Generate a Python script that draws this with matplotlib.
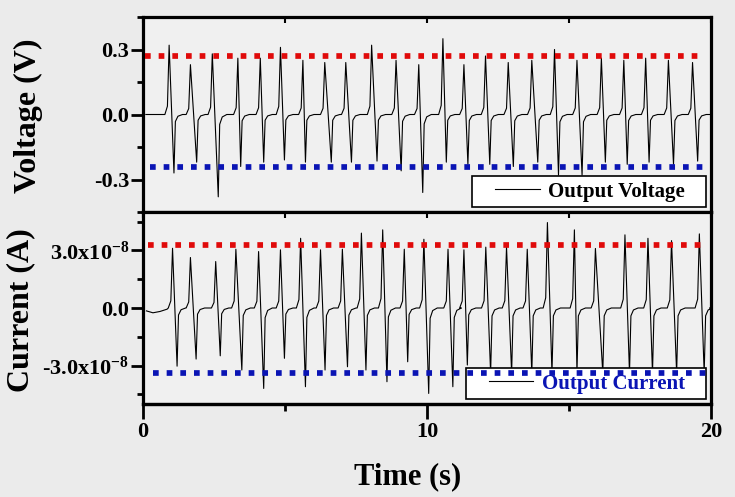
import numpy as np
import matplotlib.pyplot as plt
from matplotlib.ticker import FixedLocator, FixedFormatter
from matplotlib.legend_handler import HandlerLine2D

plt.rcParams['font.family'] = ['Liberation Serif', 'DejaVu Serif']
plt.rcParams['font.weight'] = 'bold'
plt.rcParams['mathtext.fontset'] = 'custom'
plt.rcParams['mathtext.rm'] = 'Liberation Serif:bold'
plt.rcParams['mathtext.it'] = 'Liberation Serif:bold'
plt.rcParams['mathtext.bf'] = 'Liberation Serif:bold'

#%% Datos leidos de la figura
# voltaje: picos positivos y negativos (s, V)
v_pk_t = [0.92, 1.67, 2.44, 3.34, 4.13, 4.84, 5.63, 6.40, 7.14, 8.05, 8.91, 9.71,
          10.56, 11.30, 12.06, 12.86, 13.69, 14.49, 15.28, 16.14, 16.93, 17.70, 18.50, 19.35]
v_pk = [0.32, 0.23, 0.28, 0.26, 0.26, 0.31, 0.25, 0.24, 0.24, 0.32, 0.25, 0.23,
        0.35, 0.23, 0.27, 0.24, 0.25, 0.30, 0.25, 0.26, 0.25, 0.26, 0.25, 0.24]
v_tr_t = [1.09, 1.89, 2.65, 3.44, 4.25, 4.98, 5.72, 6.63, 7.34, 8.24, 9.09, 9.85,
          10.68, 11.44, 12.21, 13.04, 13.90, 14.63, 15.46, 16.28, 17.05, 17.82, 18.68, 19.53]
v_tr = [-0.27, -0.22, -0.38, -0.24, -0.22, -0.21, -0.22, -0.22, -0.22, -0.215, -0.26, -0.36,
        -0.22, -0.23, -0.23, -0.24, -0.22, -0.28, -0.28, -0.22, -0.23, -0.22, -0.23, -0.215]
v_levels = [0.272, -0.24]

# corriente: picos (s, 1e-8 A)
i_pk_t = [1.04, 1.67, 2.56, 3.27, 4.07, 4.84, 5.55, 6.25, 7.02, 7.69, 8.44, 9.20, 9.89,
          10.74, 11.30, 12.07, 12.80, 13.53, 14.24, 15.19, 15.93, 16.97, 17.78, 18.61, 19.59]
i_pk = [3.11, 2.63, 2.42, 3.06, 2.94, 3.03, 3.63, 3.03, 3.06, 3.90, 4.07, 3.06, 3.58,
        3.06, 3.03, 3.17, 3.17, 3.06, 4.45, 4.07, 3.10, 3.81, 3.63, 3.51, 3.86]
i_tr_t = [1.20, 1.87, 2.72, 3.48, 4.25, 4.98, 5.72, 6.41, 7.20, 7.85, 8.59, 9.32, 10.06,
          10.91, 11.42, 12.24, 12.98, 13.69, 14.40, 15.28, 16.19, 17.13, 17.94, 18.79, 19.76]
i_tr = [-3.03, -2.66, -2.49, -3.23, -4.19, -2.62, -4.10, -3.23, -3.06, -3.23, -3.84, -2.80, -4.45,
        -4.10, -2.97, -3.40, -3.40, -3.40, -3.40, -3.40, -3.40, -3.40, -3.40, -3.40, -3.40]
i_start_t = [0.12, 0.35, 0.60, 0.85]
i_start = [-0.15, -0.25, -0.18, -0.06]
i_levels = [3.29, -3.39]

# forma de cada pulso (offsets en s, fraccion de la amplitud)
pre_dt = [-0.15, -0.06]
pre_fr = [0.0, 0.12]
post_dt = [0.05, 0.14, 0.30]
post_fr = [0.12, 0.03, 0.0]


def armar(pk_t, pk, tr_t, tr, t_ini, y_ini, t_fin):
    t = list(t_ini)
    y = list(y_ini)
    for a, b, c, d in zip(pk_t, pk, tr_t, tr):
        t += [a + dt for dt in pre_dt] + [a, c] + [c + dt for dt in post_dt]
        y += [b * f for f in pre_fr] + [b, d] + [d * f for f in post_fr]
    t.append(t_fin)
    y.append(0.0)
    return np.array(t), np.array(y)


tv, yv = armar(v_pk_t, v_pk, v_tr_t, v_tr, [0.1], [0.0], 19.95)
ti, yi = armar(i_pk_t, i_pk, i_tr_t, i_tr, i_start_t, i_start, 19.95)
yi = yi * 1e-8

#%% Grafica
W, H = 735, 497
fig = plt.figure(figsize=(W / 100, H / 100), dpi=100, facecolor='#ebebeb')

def caja(x0, y0, x1, y1):
    return [x0 / W, 1 - y1 / H, (x1 - x0) / W, (y1 - y0) / H]

ax1 = fig.add_axes(caja(143, 17, 711, 212))
ax2 = fig.add_axes(caja(143, 212, 711, 404))

rojo = '#e00a0a'
azul = '#0a14b4'
punteado = (0, (1, 1.4))

for ax in (ax1, ax2):
    ax.set_facecolor('#f0f0f0')
    ax.set_xlim(0, 20)
    for s in ax.spines.values():
        s.set_linewidth(2.3)
    ax.xaxis.set_major_locator(FixedLocator([0, 10, 20]))
    ax.xaxis.set_minor_locator(FixedLocator([5, 15]))
    ax.tick_params(axis='y', which='major', direction='out', length=9, width=2,
                   labelsize=16, pad=1)
    ax.tick_params(axis='y', which='minor', direction='out', length=4, width=2)
    ax.tick_params(axis='x', which='both', direction='in', bottom=False, top=True,
                   labelbottom=False, length=4, width=1.5)

ax1.plot(tv, yv, color='black', lw=0.8, label='Output Voltage   ', zorder=2)
ax1.plot([0.07, 19.65], [v_levels[0]] * 2, color=rojo, lw=4.1, ls=punteado, zorder=6)
ax1.plot([0.25, 19.86], [v_levels[1]] * 2, color=azul, lw=4.1, ls=punteado, zorder=6)
ax1.set_ylim(-0.45, 0.45)
ax1.yaxis.set_major_locator(FixedLocator([-0.3, 0.0, 0.3]))
ax1.yaxis.set_major_formatter(FixedFormatter(['-0.3', '0.0', '0.3']))
ax1.yaxis.set_minor_locator(FixedLocator([-0.45, -0.15, 0.15, 0.45]))

ax2.plot(ti, yi, color='black', lw=0.8, label='Output Current   ', zorder=2)
ax2.plot([0.18, 19.8], [i_levels[0] * 1e-8] * 2, color=rojo, lw=4.1, ls=punteado, zorder=6)
ax2.plot([0.35, 19.93], [i_levels[1] * 1e-8] * 2, color=azul, lw=4.1, ls=punteado, zorder=6)
ax2.set_ylim(-5e-8, 5e-8)
ax2.yaxis.set_major_locator(FixedLocator([-3e-8, 0.0, 3e-8]))
ax2.yaxis.set_major_formatter(FixedFormatter(['-3.0x10$^{-8}$', '0.0', '3.0x10$^{-8}$']))
ax2.yaxis.set_minor_locator(FixedLocator([-4.5e-8, -1.5e-8, 1.5e-8, 4.5e-8]))

# eje x de abajo: ticks hacia afuera con etiquetas
ejex = ax2.secondary_xaxis('bottom')
ejex.xaxis.set_major_locator(FixedLocator([0, 10, 20]))
ejex.xaxis.set_minor_locator(FixedLocator([5, 15]))
ejex.tick_params(which='major', direction='out', length=11, width=2, labelsize=16, pad=2)
ejex.tick_params(which='minor', direction='out', length=5, width=2)
ejex.spines['bottom'].set_linewidth(2.3)

for ax, color in ((ax1, 'black'), (ax2, azul)):
    leg = ax.legend(loc='lower right', fontsize=15, frameon=True, fancybox=False,
                    edgecolor='black', facecolor='white', framealpha=1,
                    borderpad=0.25, borderaxespad=0.25, handlelength=3.0,
                    handletextpad=0.4,
                    handler_map={ax.lines[0]: HandlerLine2D(xpad=0.85)})
    leg.get_frame().set_linewidth(1.2)
    leg.set_zorder(5)
    leg.get_texts()[0].set_color(color)

fig.text(28 / W, 1 - 116 / H, 'Voltage (V)', rotation=90, ha='center', va='center',
         fontsize=23)
fig.text(21 / W, 1 - 310 / H, 'Current (A)', rotation=90, ha='center', va='center',
         fontsize=23)
fig.text(408 / W, 1 - 477 / H, 'Time (s)', ha='center', va='center', fontsize=22)

fig.savefig('out.png', dpi=100, facecolor=fig.get_facecolor())
